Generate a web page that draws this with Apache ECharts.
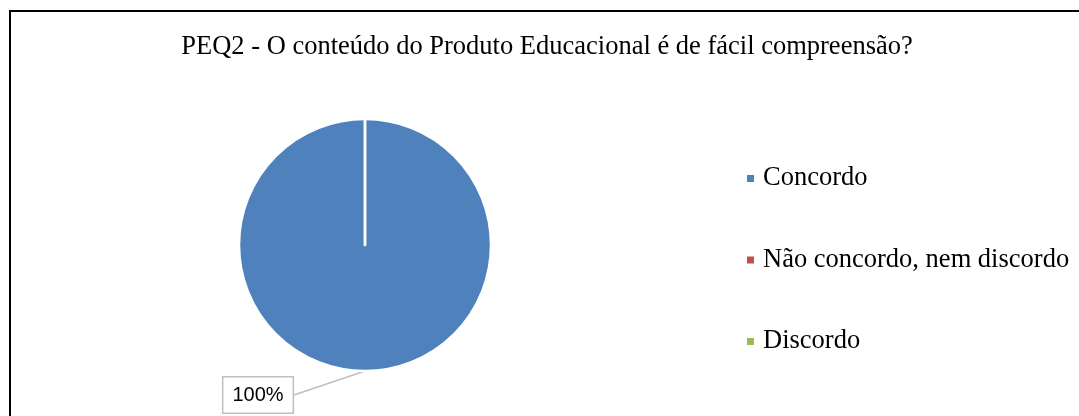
<!DOCTYPE html>
<html>
<head>
<meta charset="utf-8">
<script src="https://cdn.jsdelivr.net/npm/echarts@6/dist/echarts.min.js"></script>
<style>
  html, body { margin: 0; padding: 0; background: #fff; }
  #chart { width: 1079px; height: 416px; }
</style>
</head>
<body>
<div id="chart"></div>
<script>
// Survey answers for question PEQ2
const titleText = 'PEQ2 - O conteúdo do Produto Educacional é de fácil compreensão?';
const categories = ['Concordo', 'Não concordo, nem discordo', 'Discordo'];
const percentages = [100, 0, 0];
const colors = ['#4F81BD', '#C0504D', '#9BBB59'];

const serif = '"Liberation Serif", "Times New Roman", serif';

const pieData = categories.map((name, i) => ({
  name: name,
  value: percentages[i],
  itemStyle: { color: colors[i] },
  label: { show: percentages[i] > 0 },
  labelLine: { show: percentages[i] > 0 }
}));

const chart = echarts.init(document.getElementById('chart'), null, { renderer: 'canvas' });

chart.setOption({
  animation: false,
  backgroundColor: '#fff',
  color: colors,
  title: {
    text: titleText,
    left: 547,
    textAlign: 'center',
    top: 34,
    padding: 0,
    textStyle: { fontFamily: serif, fontSize: 26.5, fontWeight: 'normal', color: '#000' }
  },
  legend: {
    orient: 'vertical',
    left: 745,
    top: 165,
    padding: 0,
    itemGap: 54.5,
    icon: 'rect',
    itemWidth: 9,
    itemHeight: 9,
    data: categories,
    textStyle: { fontFamily: serif, fontSize: 26.5, color: '#000', padding: [0, 0, 0, 3] }
  },
  graphic: [{
    type: 'rect',
    silent: true,
    shape: { x: 10, y: 11, width: 1200, height: 600 },
    style: { fill: 'none', stroke: '#000', lineWidth: 2 }
  }],
  series: [{
    type: 'pie',
    center: [365, 245],
    radius: 126,
    startAngle: 90,
    clockwise: true,
    stillShowZeroSum: true,
    avoidLabelOverlap: false,
    itemStyle: { borderColor: '#fff', borderWidth: 2.5 },
    emphasis: { disabled: true },
    label: {
      position: 'outside',
      formatter: p => p.value + '%',
      fontFamily: '"Liberation Sans", Arial, sans-serif',
      fontSize: 20,
      color: '#000',
      backgroundColor: '#fff',
      borderColor: '#BFBFBF',
      borderWidth: 1.5,
      padding: [8, 9, 7, 9]
    },
    labelLine: {
      length: 0,
      length2: 0,
      lineStyle: { color: '#BFBFBF', width: 1.5 }
    },
    labelLayout: { x: 258, y: 395, align: 'center', verticalAlign: 'middle' },
    data: pieData
  }]
});
</script>
</body>
</html>
